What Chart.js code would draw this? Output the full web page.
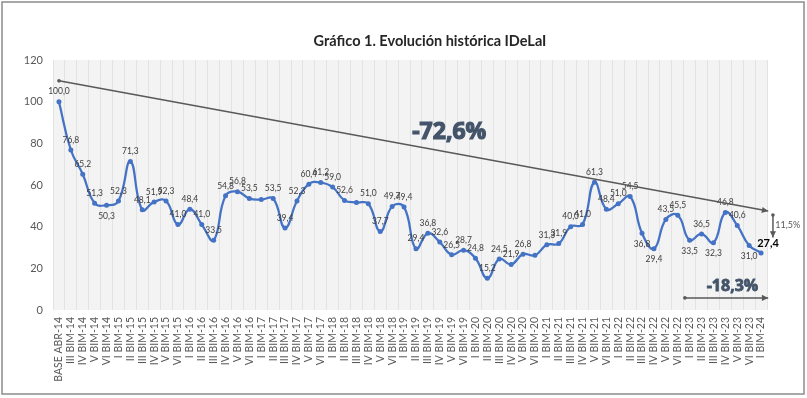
<!DOCTYPE html>
<html>
<head>
<meta charset="utf-8">
<script src="https://cdn.jsdelivr.net/npm/chart.js@4"></script>
<style>
  html, body { margin: 0; padding: 0; background: #fff; }
  #wrap { width: 807px; height: 398px; }
</style>
</head>
<body>
<div id="wrap"><canvas id="chart" width="807" height="398"></canvas></div>
<script>
const periods = [
    'BASE ABR-14', 'III BIM-14', 'IV BIM-14', 'V BIM-14', 'VI BIM-14',
    'I BIM-15', 'II BIM-15', 'III BIM-15', 'IV BIM-15', 'V BIM-15', 'VI BIM-15',
    'I BIM-16', 'II BIM-16', 'III BIM-16', 'IV BIM-16', 'V BIM-16', 'VI BIM-16',
    'I BIM-17', 'II BIM-17', 'III BIM-17', 'IV BIM-17', 'V BIM-17', 'VI BIM-17',
    'I BIM-18', 'II BIM-18', 'III BIM-18', 'IV BIM-18', 'V BIM-18', 'VI BIM-18',
    'I BIM-19', 'II BIM-19', 'III BIM-19', 'IV BIM-19', 'V BIM-19', 'VI BIM-19',
    'I BIM-20', 'II BIM-20', 'III BIM-20', 'IV BIM-20', 'V BIM-20', 'VI BIM-20',
    'I BIM-21', 'II BIM-21', 'III BIM-21', 'IV BIM-21', 'V BIM-21', 'VI BIM-21',
    'I BIM-22', 'II BIM-22', 'III BIM-22', 'IV BIM-22', 'V BIM-22', 'VI BIM-22',
    'I BIM-23', 'II BIM-23', 'III BIM-23', 'IV BIM-23', 'V BIM-23', 'VI BIM-23',
    'I BIM-24'
];

const idelai = [
    100.0, 76.8, 65.2, 51.3, 50.3,
    52.3, 71.3, 48.1, 51.9, 52.3, 41.0,
    48.4, 41.0, 33.5, 54.8, 56.8, 53.5,
    53.0, 53.5, 39.4, 52.3, 60.4, 61.2,
    59.0, 52.6, 51.6, 51.0, 37.7, 49.7,
    49.4, 29.4, 36.8, 32.6, 26.5, 28.7,
    24.8, 15.2, 24.5, 21.9, 26.8, 26.3,
    31.3, 31.9, 40.0, 41.0, 61.3, 48.4,
    51.0, 54.5, 36.8, 29.4, 43.5, 45.5,
    33.5, 36.5, 32.3, 46.8, 40.6, 31.0,
    27.4
];

const yTicks = [0, 20, 40, 60, 80, 100, 120];

// data labels: which ones sit under the point, which ones Excel hid
const labelsBelow = [4, 49, 50, 53, 55, 58];
const labelsHidden = [17, 25, 40];

// annotations, in data units (category index, value)
const trendFrom = [0, 110];
const trendTo = [59.6, 47.5];
const trendText = '-72,6%';
const trendTextAt = [32.8, 85];

const gapFrom = [60.0, 45.6];
const gapTo = [60.0, 34.8];
const gapText = '11,5%';
const gapTextAt = [60.2, 40.8];

const recentFrom = [52.6, 5.8];
const recentTo = [59.6, 5.8];
const recentText = '-18,3%';
const recentTextAt = [56.6, 11.5];

const titleText = 'Gráfico 1. Evolución histórica IDeLaI';

const FONT = 'Lato, "Open Sans", sans-serif';
const BIG_FONT = '"Open Sans", Lato, sans-serif';
const BLUE = '#4472C4';

function fmt(v) {
    return v.toFixed(1).replace('.', ',');
}

function px(chart, p) {
    return [chart.scales.x.getPixelForValue(p[0]), chart.scales.y.getPixelForValue(p[1])];
}

function drawArrow(ctx, a, b) {
    ctx.save();
    ctx.strokeStyle = '#595959';
    ctx.fillStyle = '#595959';
    ctx.lineWidth = 1.5;
    ctx.beginPath();
    ctx.moveTo(a[0], a[1]);
    ctx.lineTo(b[0], b[1]);
    ctx.stroke();
    ctx.beginPath();
    ctx.arc(a[0], a[1], 1.8, 0, Math.PI * 2);
    ctx.fill();
    const ang = Math.atan2(b[1] - a[1], b[0] - a[0]);
    const h = 7;
    ctx.beginPath();
    ctx.moveTo(b[0], b[1]);
    ctx.lineTo(b[0] - h * Math.cos(ang - 0.45), b[1] - h * Math.sin(ang - 0.45));
    ctx.lineTo(b[0] - h * Math.cos(ang + 0.45), b[1] - h * Math.sin(ang + 0.45));
    ctx.closePath();
    ctx.fill();
    ctx.restore();
}

// heavy text: fill plus a thin stroke in the same colour
function heavyText(ctx, text, x, y, w) {
    ctx.fillText(text, x, y);
    ctx.lineWidth = w;
    ctx.strokeText(text, x, y);
}

const overlay = {
    id: 'overlay',
    beforeDraw(chart) {
        const ctx = chart.ctx;
        const a = chart.chartArea;
        ctx.save();
        ctx.fillStyle = '#ffffff';
        ctx.fillRect(0, 0, chart.width, chart.height);
        ctx.fillStyle = '#F3F3F3';
        ctx.fillRect(a.left, a.top, a.right - a.left, a.bottom - a.top);
        ctx.strokeStyle = '#8C8C8C';
        ctx.lineWidth = 1.5;
        ctx.strokeRect(2, 2, chart.width - 5, chart.height - 6);
        ctx.restore();
    },
    afterDatasetsDraw(chart) {
        const ctx = chart.ctx;
        const meta = chart.getDatasetMeta(0);

        // data labels
        ctx.save();
        ctx.textAlign = 'center';
        ctx.textBaseline = 'middle';
        meta.data.forEach((pt, i) => {
            if (labelsHidden.includes(i)) return;
            if (i === idelai.length - 1) {
                ctx.font = 'bold 11px ' + FONT;
                ctx.fillStyle = '#000000';
                ctx.fillText(fmt(idelai[i]), pt.x + 7, pt.y - 9);
                return;
            }
            ctx.font = '8.5px ' + FONT;
            ctx.fillStyle = '#404040';
            const dy = labelsBelow.includes(i) ? 11 : -10;
            ctx.fillText(fmt(idelai[i]), pt.x, pt.y + dy);
        });
        ctx.restore();

        drawArrow(ctx, px(chart, trendFrom), px(chart, trendTo));
        drawArrow(ctx, px(chart, gapFrom), px(chart, gapTo));
        drawArrow(ctx, px(chart, recentFrom), px(chart, recentTo));

        ctx.save();
        ctx.textBaseline = 'middle';
        ctx.fillStyle = '#44546A';
        ctx.strokeStyle = '#44546A';
        ctx.textAlign = 'center';
        let p = px(chart, trendTextAt);
        ctx.font = 'bold 23px ' + BIG_FONT;
        heavyText(ctx, trendText, p[0], p[1], 1.2);
        p = px(chart, recentTextAt);
        ctx.font = 'bold 16px ' + BIG_FONT;
        heavyText(ctx, recentText, p[0], p[1], 0.8);
        p = px(chart, gapTextAt);
        ctx.textAlign = 'left';
        ctx.font = '9px ' + FONT;
        ctx.fillStyle = '#595959';
        ctx.fillText(gapText, p[0], p[1]);

        ctx.textAlign = 'center';
        ctx.font = 'bold 14.5px ' + FONT;
        ctx.fillStyle = '#262626';
        ctx.fillText(titleText, 430, 41);
        ctx.restore();
    }
};

const ctx = document.getElementById('chart').getContext('2d');
const myChart = new Chart(ctx, {
    type: 'line',
    data: {
        labels: periods,
        datasets: [{
            data: idelai,
            borderColor: BLUE,
            backgroundColor: BLUE,
            borderWidth: 2.25,
            tension: 0.45,
            pointRadius: 2.5,
            pointBorderWidth: 0,
            pointBackgroundColor: BLUE,
            fill: false
        }]
    },
    options: {
        responsive: false,
        animation: false,
        devicePixelRatio: 1,
        layout: { padding: { left: 10, right: 40, top: 60, bottom: 8 } },
        plugins: {
            legend: { display: false },
            title: { display: false },
            tooltip: { enabled: false }
        },
        scales: {
            x: {
                offset: true,
                grid: { color: '#E3E3E3', offset: true, drawTicks: false },
                border: { display: false },
                ticks: {
                    autoSkip: false,
                    maxRotation: 90,
                    minRotation: 90,
                    padding: 7,
                    color: '#595959',
                    font: { family: FONT, size: 10.5 }
                },
                afterFit(scale) { scale.height = 80; }
            },
            y: {
                min: 0,
                max: 120,
                afterBuildTicks(scale) { scale.ticks = yTicks.map(v => ({ value: v })); },
                grid: { display: false, drawTicks: false },
                border: { display: false },
                ticks: {
                    padding: 10,
                    color: '#595959',
                    font: { family: FONT, size: 11 }
                },
                afterFit(scale) { scale.width = 43; }
            }
        }
    },
    plugins: [overlay]
});
</script>
</body>
</html>
